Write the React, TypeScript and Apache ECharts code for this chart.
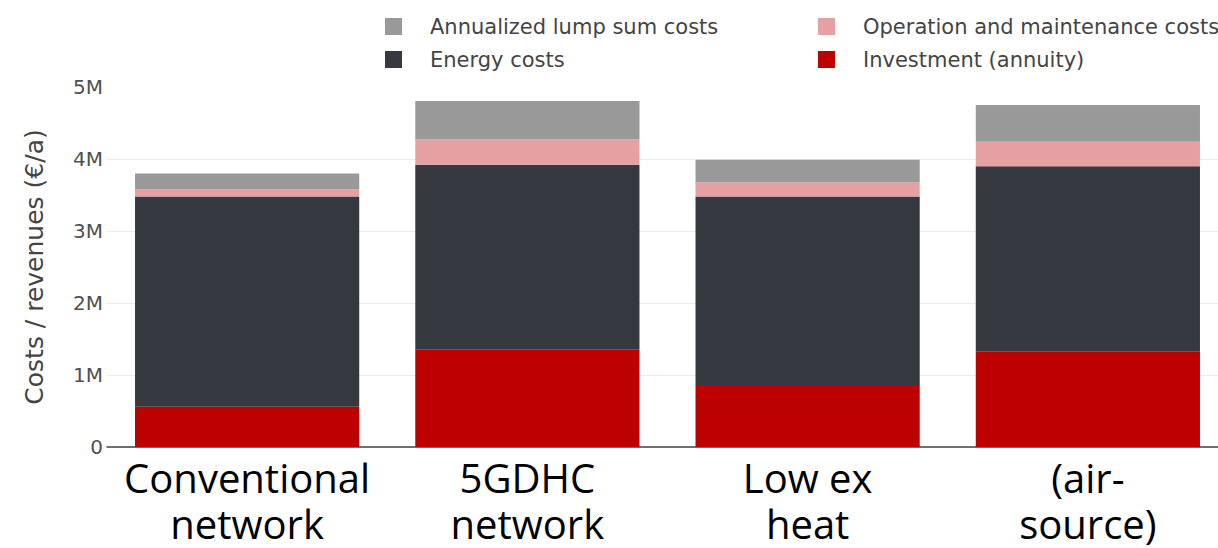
import React, { useEffect, useRef } from "react";
import * as echarts from "echarts";

// Scenario names shown under each stacked bar
const categories = [
  "Conventional\nnetwork",
  "5GDHC\nnetwork",
  "Low ex\nheat",
  "(air-\nsource)",
];

// Annual cost components per scenario, in €/a
const investment = [560000, 1350000, 860000, 1330000];
const energyCosts = [2920000, 2570000, 2620000, 2570000];
const operationMaintenance = [100000, 350000, 195000, 340000];
const annualizedLumpSum = [220000, 535000, 315000, 510000];

const yTicks = { min: 0, max: 5000000, interval: 1000000 };

const LEGEND_FONT = "'DejaVu Sans', Verdana, sans-serif";

// The plot area runs a little past the right edge of the visible page
const CANVAS_WIDTH = 1240;

export default function App() {
  const ref = useRef<HTMLDivElement>(null);

  useEffect(() => {
    if (!ref.current) return;
    const chart = echarts.init(ref.current, null, { renderer: "svg" });

    const legendText = {
      fontFamily: LEGEND_FONT,
      fontSize: 21,
      color: "#444444",
      padding: [0, 0, 0, 23],
    };

    const bar = (name: string, data: number[], color: string) => ({
      name,
      type: "bar",
      stack: "total",
      data,
      barCategoryGap: "20%",
      itemStyle: { color },
      emphasis: { disabled: true },
    });

    chart.setOption({
      animation: false,
      backgroundColor: "#ffffff",
      legend: [
        {
          orient: "vertical",
          left: 380,
          top: 11,
          itemWidth: 17,
          itemHeight: 17,
          itemGap: 12,
          icon: "rect",
          textStyle: legendText,
          data: ["Annualized lump sum costs", "Energy costs"],
        },
        {
          orient: "vertical",
          left: 813,
          top: 11,
          itemWidth: 17,
          itemHeight: 17,
          itemGap: 12,
          icon: "rect",
          textStyle: legendText,
          data: ["Operation and maintenance costs", "Investment (annuity)"],
        },
      ],
      grid: { left: 107, top: 87, right: CANVAS_WIDTH - 1228, height: 360 },
      xAxis: {
        type: "category",
        data: categories,
        axisLine: { lineStyle: { color: "#444444", width: 1.5 } },
        axisTick: { show: false },
        axisLabel: {
          interval: 0,
          margin: 7,
          fontFamily: "'Open Sans', 'Noto Sans', sans-serif",
          fontSize: 40,
          lineHeight: 46,
          color: "#000000",
        },
      },
      yAxis: {
        type: "value",
        ...yTicks,
        name: "Costs / revenues (€/a)",
        nameLocation: "middle",
        nameGap: 60,
        nameTextStyle: {
          fontFamily: LEGEND_FONT,
          fontSize: 25,
          color: "#444444",
        },
        axisLine: { show: false },
        axisTick: { show: false },
        axisLabel: {
          margin: 4,
          fontFamily: LEGEND_FONT,
          fontSize: 20,
          color: "#505050",
          formatter: (v: number) => (v === 0 ? "0" : `${v / 1000000}M`),
        },
        splitLine: {
          lineStyle: {
            color: ["#ebebeb", "#ebebeb", "#ebebeb", "#ebebeb", "#ebebeb", "rgba(0,0,0,0)"],
            width: 1,
          },
        },
      },
      series: [
        bar("Investment (annuity)", investment, "#bd0000"),
        bar("Energy costs", energyCosts, "#363a40"),
        bar("Operation and maintenance costs", operationMaintenance, "#e6a0a2"),
        bar("Annualized lump sum costs", annualizedLumpSum, "#999999"),
      ],
    });

    return () => chart.dispose();
  }, []);

  return (
    <div
      ref={ref}
      style={{ position: "fixed", left: 0, top: 0, width: CANVAS_WIDTH, height: 548 }}
    />
  );
}
